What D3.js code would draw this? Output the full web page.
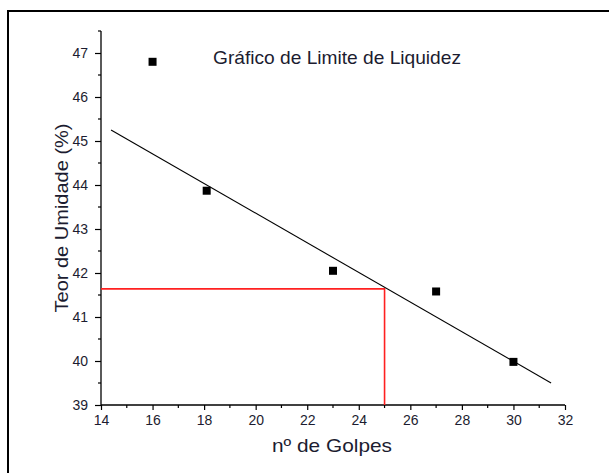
<!DOCTYPE html>
<html>
<head>
<meta charset="utf-8">
<script src="https://cdn.jsdelivr.net/npm/d3@7"></script>
<style>
  html, body { margin: 0; padding: 0; background: #fff; }
  svg { display: block; font-family: Arial, "Liberation Sans", sans-serif; }
</style>
</head>
<body>
<svg id="chart" width="609" height="473"></svg>
<script>
// Liquid limit test: blows vs. moisture content
const golpes = [16, 18.1, 23, 27, 30];
const umidade = [46.8, 43.87, 42.05, 41.58, 39.98];

// Fitted trend line (end points)
const fitX = [14.39, 31.46];
const fitY = [45.25, 39.5];

// Liquid limit reading at 25 blows
const limiteX = 25;
const limiteY = 41.64;

const xTicks = [14, 16, 18, 20, 22, 24, 26, 28, 30, 32];
const yTicks = [39, 40, 41, 42, 43, 44, 45, 46, 47];

const svg = d3.select("#chart");
const textColor = "#1c1c30";

// Frame around the figure
svg.append("path")
  .attr("d", "M8,480 L8,11 L620,11")
  .attr("fill", "none")
  .attr("stroke", "#000")
  .attr("stroke-width", 2);

const x = d3.scaleLinear().domain([14, 32]).range([101, 565]);
const y = d3.scaleLinear().domain([39, 47]).range([405, 53]);

// Minor ticks
const xMinor = d3.range(15, 32, 2);
const yMinor = d3.range(39.5, 47.6, 1);

const gx = svg.append("g").attr("transform", `translate(0,${y(39)})`);
gx.append("line").attr("x1", x(14)).attr("x2", x(32))
  .attr("stroke", "#000").attr("stroke-width", 1.3);
gx.selectAll("line.minor").data(xMinor).join("line")
  .attr("class", "minor")
  .attr("x1", d => x(d)).attr("x2", d => x(d))
  .attr("y1", 0).attr("y2", 3)
  .attr("stroke", "#000").attr("stroke-width", 1.2);
const xAxis = d3.axisBottom(x).tickValues(xTicks).tickSize(5).tickPadding(5)
  .tickFormat(d3.format("d"));
const gxa = gx.append("g").call(xAxis);
gxa.select(".domain").remove();
gxa.selectAll(".tick line").attr("stroke-width", 1.2);
gxa.selectAll(".tick text")
  .style("font-size", "14px").attr("fill", textColor)
  .style("font-family", "Arial, 'Liberation Sans', sans-serif");

const yTop = 47.5;
const gy = svg.append("g").attr("transform", `translate(${x(14)},0)`);
gy.append("line").attr("y1", y(39)).attr("y2", y(yTop))
  .attr("stroke", "#000").attr("stroke-width", 1.3);
gy.selectAll("line.minor").data(yMinor).join("line")
  .attr("class", "minor")
  .attr("y1", d => y(d)).attr("y2", d => y(d))
  .attr("x1", 0).attr("x2", -3)
  .attr("stroke", "#000").attr("stroke-width", 1.2);
const yAxis = d3.axisLeft(y).tickValues(yTicks).tickSize(6).tickPadding(7)
  .tickFormat(d3.format("d"));
const gya = gy.append("g").call(yAxis);
gya.select(".domain").remove();
gya.selectAll(".tick line").attr("stroke-width", 1.2);
gya.selectAll(".tick text")
  .style("font-size", "14px").attr("fill", textColor)
  .style("font-family", "Arial, 'Liberation Sans', sans-serif");

// Liquid limit guide lines
svg.append("path")
  .attr("d", `M${x(14)},${y(limiteY)} L${x(limiteX)},${y(limiteY)} L${x(limiteX)},${y(39)}`)
  .attr("fill", "none")
  .attr("stroke", "#ff2020")
  .attr("stroke-width", 1.6);

// Trend line
svg.append("line")
  .attr("x1", x(fitX[0])).attr("y1", y(fitY[0]))
  .attr("x2", x(fitX[1])).attr("y2", y(fitY[1]))
  .attr("stroke", "#000").attr("stroke-width", 1.1);

// Measured points
const pts = golpes.map((g, i) => ({ g, u: umidade[i] }));
const s = 8;
svg.selectAll("rect.pt").data(pts).join("rect")
  .attr("class", "pt")
  .attr("x", d => x(d.g) - s / 2)
  .attr("y", d => y(d.u) - s / 2)
  .attr("width", s).attr("height", s)
  .attr("fill", "#000");

// Titles
svg.append("text")
  .attr("x", 337).attr("y", 64)
  .attr("text-anchor", "middle")
  .attr("font-size", 18.5)
  .attr("textLength", 248)
  .attr("lengthAdjust", "spacingAndGlyphs")
  .attr("fill", textColor)
  .text("Gráfico de Limite de Liquidez");

svg.append("text")
  .attr("x", 332).attr("y", 452)
  .attr("text-anchor", "middle")
  .attr("font-size", 19)
  .attr("textLength", 120)
  .attr("lengthAdjust", "spacingAndGlyphs")
  .attr("fill", textColor)
  .text("nº de Golpes");

svg.append("text")
  .attr("transform", `translate(68,218) rotate(-90)`)
  .attr("text-anchor", "middle")
  .attr("font-size", 19)
  .attr("textLength", 189)
  .attr("lengthAdjust", "spacingAndGlyphs")
  .attr("fill", textColor)
  .text("Teor de Umidade (%)");
</script>
</body>
</html>
